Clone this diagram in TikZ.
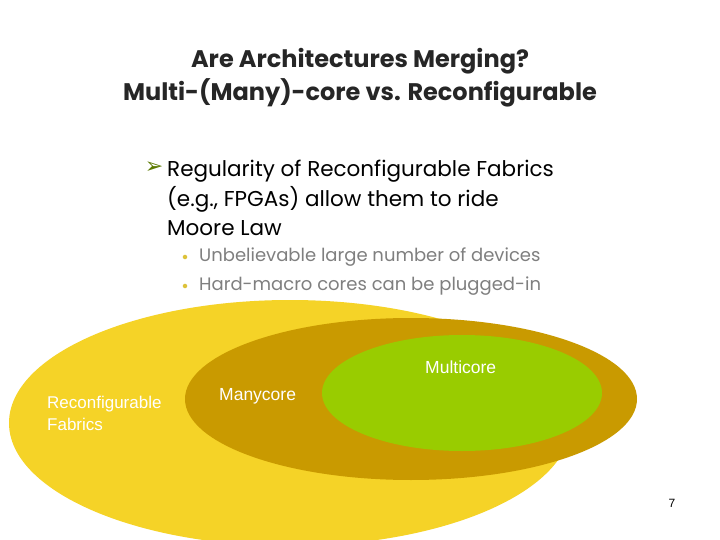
\documentclass[tikz,border=0pt]{standalone}
\usepackage{fontspec}
\setmainfont{Poppins}
\newfontfamily\arial{Liberation Sans}
\newfontfamily\dv{DejaVu Sans}
\definecolor{yel}{HTML}{F5D327}
\definecolor{gold}{HTML}{C99A00}
\definecolor{grn}{HTML}{99CC00}
\definecolor{gr}{HTML}{7F7F7F}
\begin{document}
\begin{tikzpicture}[x=1pt,y=-1pt,
  lab/.style={font=\arial\fontsize{17.5}{21}\selectfont,text=white,anchor=west,align=left,inner sep=0},
  main/.style={font=\fontsize{21.5}{29.5}\selectfont,anchor=west,align=left,inner sep=0},
  sub/.style={font=\fontsize{18}{29}\selectfont,text=gr,anchor=west,inner sep=0}]
\useasboundingbox (0,0) rectangle (720,540);
\clip (0,0) rectangle (720,540);
\fill[white] (0,0) rectangle (720,540);
\node[font=\bfseries\fontsize{24}{33}\selectfont,align=center,text=black!85] (title) at (360,78) {Are Architectures Merging?\\Multi-(Many)-core vs. Reconfigurable};
\node[font=\dv\fontsize{22}{22}\selectfont,text=grn!60!black,inner sep=0] (arr) at (154,168) {➢};
\node[main] (t1) at (167,198) {Regularity of Reconfigurable Fabrics\\(e.g., FPGAs) allow them to ride\\Moore Law};
\node[circle,fill=yel!80!gray,inner sep=1.6pt] (d1) at (185,257) {};
\node[circle,fill=yel!80!gray,inner sep=1.6pt] (d2) at (185,286) {};
\node[sub] (s1) at (199,257) {Unbelievable large number of devices};
\node[sub] (s2) at (199,286) {Hard-macro cores can be plugged-in};
\fill[yel] (290,423) ellipse[x radius=281,y radius=123];
\fill[gold] (411,399) ellipse[x radius=226,y radius=81];
\fill[grn] (462,393) ellipse[x radius=140,y radius=58];
\node[lab] (mc) at (425,367) {Multicore};
\node[lab] (many) at (219,396) {Manycore};
\node[lab,font=\arial\fontsize{17}{22}\selectfont] (rf) at (47,413) {Reconfigurable\\Fabrics};
\node[font=\arial\fontsize{12}{12}\selectfont] (pg) at (672,503) {7};
\end{tikzpicture}
\end{document}
